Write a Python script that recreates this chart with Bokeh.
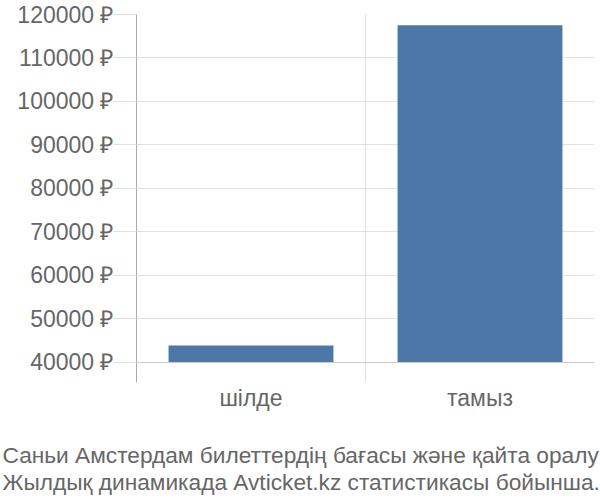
from bokeh.plotting import figure
from bokeh.layouts import column
from bokeh.models import Range1d, FixedTicker, Span, CustomJSTickFormatter
from bokeh.core.properties import value
from bokeh.embed import file_html
from bokeh.resources import INLINE

months = ["шілде", "тамыз"]
prices = [43900, 117500]
y_ticks = [40000, 50000, 60000, 70000, 80000, 90000, 100000, 110000, 120000]
caption1 = "Саньи Амстердам билеттердің бағасы және қайта оралу"
caption2 = "Жылдық динамикада Avticket.kz статистикасы бойынша."

FONT = "Liberation Sans"
GRAY = "#666666"

W = 600
H1, H2 = 418, 82
p = figure(width=W, height=H1, output_backend="svg", toolbar_location=None,
           x_range=Range1d(0, 2), y_range=Range1d(35400, 120000),
           min_border_left=136, min_border_right=6, min_border_top=14,
           min_border_bottom=36)
p.outline_line_color = None
p.background_fill_color = "white"

xs = [i + 0.5 for i in range(len(months))]
p.vbar(x=xs, top=prices, bottom=40000, width=0.72, fill_color="#4c78a8", line_color=None)

# y axis
p.yaxis.ticker = FixedTicker(ticks=y_ticks)
p.yaxis.formatter = CustomJSTickFormatter(code="return tick + ' ₽';")
p.yaxis.major_tick_out = 23
p.yaxis.major_tick_in = 0
p.yaxis.minor_tick_line_color = None
p.yaxis.major_tick_line_color = "#e0e0e0"
p.yaxis.axis_line_color = "#aaaaaa"
p.yaxis.major_label_standoff = 0
p.yaxis.major_label_text_font = FONT
p.yaxis.major_label_text_font_size = "23px"
p.yaxis.major_label_text_color = GRAY

# x axis
p.xaxis.ticker = FixedTicker(ticks=xs)
p.xaxis.major_label_overrides = {x: m for x, m in zip(xs, months)}
p.xaxis.axis_line_color = None
p.xaxis.major_tick_line_color = None
p.xaxis.minor_tick_line_color = None
p.xaxis.major_tick_out = 0
p.xaxis.major_tick_in = 0
p.xaxis.major_label_standoff = 2
p.xaxis.major_label_text_font = FONT
p.xaxis.major_label_text_font_size = "23px"
p.xaxis.major_label_text_color = GRAY

# grids
p.ygrid.ticker = FixedTicker(ticks=y_ticks)
p.ygrid.grid_line_color = "#e0e0e0"
p.xgrid.ticker = FixedTicker(ticks=[0, 1, 2])
p.xgrid.grid_line_color = "#e0e0e0"
p.add_layout(Span(location=40000, dimension="width", line_color="#cccccc", line_width=1))

# caption panel
c = figure(width=W, height=H2, output_backend="svg", toolbar_location=None,
           x_range=Range1d(0, W), y_range=Range1d(0, H2),
           min_border_left=0, min_border_right=0, min_border_top=0, min_border_bottom=0)
c.axis.visible = False
c.grid.visible = False
c.outline_line_color = None
c.text(x=[2, 2], y=[46, 19], text=[caption1, caption2],
       text_font=value(FONT), text_font_size="22.7px", text_color=GRAY,
       text_baseline="alphabetic", text_align="left")

for fig in (p, c):
    try:
        fig.frame_align = False
    except Exception:
        pass

layout = column(p, c, spacing=0)
open("out.html", "w").write(file_html(layout, INLINE))
